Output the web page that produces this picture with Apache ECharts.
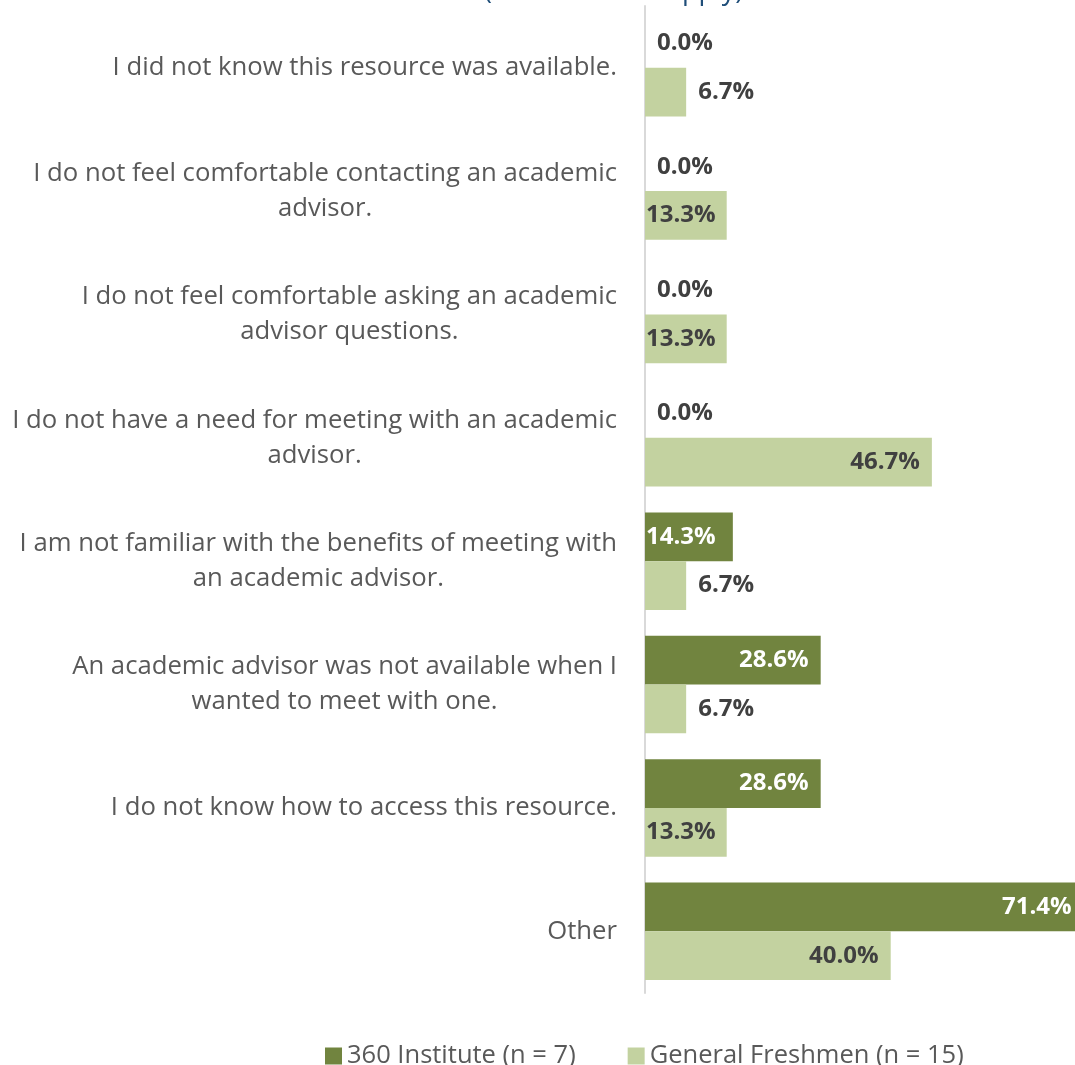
<!DOCTYPE html>
<html>
<head>
<meta charset="utf-8">
<script src="https://cdn.jsdelivr.net/npm/echarts@6/dist/echarts.min.js"></script>
<style>
  html, body { margin: 0; padding: 0; background: #fff; }
  #chart { width: 1075px; height: 1065px; }
</style>
</head>
<body>
<div id="chart"></div>
<script>
// Reasons students gave for not meeting with an academic advisor
const categories = [
  'I did not know this resource was available.',
  'I do not feel comfortable contacting an academic\nadvisor.',
  'I do not feel comfortable asking an academic\nadvisor questions.',
  'I do not have a need for meeting with an academic\nadvisor.',
  'I am not familiar with the benefits of meeting with\nan academic advisor.',
  'An academic advisor was not available when I\nwanted to meet with one.',
  'I do not know how to access this resource.',
  'Other'
];
const seriesNames = ['360 Institute (n = 7)', 'General Freshmen (n = 15)'];
const institute360 = [0.0, 0.0, 0.0, 0.0, 14.3, 28.6, 28.6, 71.4];
const generalFreshmen = [6.7, 13.3, 13.3, 46.7, 6.7, 6.7, 13.3, 40.0];
const titleText = '(Select all that apply)';

const DARK = '#71843f';
const LIGHT = '#c3d2a0';
const FONT = '"Open Sans", "Noto Sans", sans-serif';

// Label placement: short bars get the value outside, long bars inside the end
function itemLabel(v, isDark) {
  const base = { show: true, fontFamily: FONT, fontWeight: 'bold', fontSize: 24,
                 formatter: p => p.value.toFixed(1) + '%' };
  if (v < 10) {
    return Object.assign(base, { position: 'right', distance: 12, color: '#404040' });
  }
  if (v < 16) {
    return Object.assign(base, { position: 'insideLeft', distance: 1,
                                 color: isDark ? '#ffffff' : '#404040' });
  }
  return Object.assign(base, { position: 'insideRight', distance: 12,
                               color: isDark ? '#ffffff' : '#404040' });
}

function buildData(values, isDark) {
  return values.map(v => ({ value: v, label: itemLabel(v, isDark) }));
}

const chart = echarts.init(document.getElementById('chart'), null, { renderer: 'canvas' });
chart.setOption({
  animation: false,
  backgroundColor: '#ffffff',
  graphic: [{
    type: 'text',
    left: 484,
    top: -22,
    style: { text: titleText, font: '27px ' + FONT, fill: '#1f4e79' }
  }],
  legend: {
    top: 1038,
    left: 320,
    itemWidth: 17,
    itemHeight: 17,
    itemGap: 52,
    icon: 'rect',
    textStyle: { fontFamily: FONT, fontSize: 25.5, color: '#595959' },
    data: seriesNames
  },
  grid: { left: 645, right: 0, top: 6, bottom: 72, containLabel: false },
  // the longest bar runs past the right edge of the page
  xAxis: { type: 'value', min: 0, max: 70, show: false },
  yAxis: {
    type: 'category',
    inverse: true,
    data: categories,
    axisLine: { show: true, lineStyle: { color: '#d9d9d9', width: 2 } },
    axisTick: { show: false },
    axisLabel: {
      align: 'right',
      margin: 28,
      formatter: v => v.split('\n').map(line => '{c|' + line + '}').join('\n'),
      rich: {
        c: { align: 'center', fontFamily: FONT, fontSize: 25.7, color: '#595959', lineHeight: 35 }
      }
    }
  },
  series: [
    {
      name: seriesNames[0], type: 'bar', data: buildData(institute360, true), clip: false,
      itemStyle: { color: DARK }, barGap: '0%', barCategoryGap: '21%'
    },
    {
      name: seriesNames[1], type: 'bar', data: buildData(generalFreshmen, false), clip: false,
      itemStyle: { color: LIGHT }, barGap: '0%', barCategoryGap: '21%'
    }
  ]
});
</script>
</body>
</html>
